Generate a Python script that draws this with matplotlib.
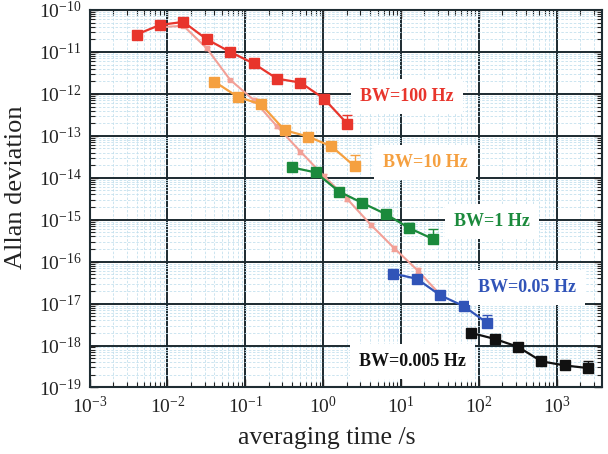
import numpy as np
import matplotlib
matplotlib.use("Agg")
import matplotlib.pyplot as plt
from matplotlib.ticker import LogLocator, NullFormatter

plt.rcParams['font.family'] = ['Liberation Serif', 'DejaVu Serif']
plt.rcParams['mathtext.fontset'] = 'custom'
plt.rcParams['mathtext.rm'] = 'Liberation Serif'
plt.rcParams['mathtext.it'] = 'Liberation Serif:italic'
plt.rcParams['mathtext.bf'] = 'Liberation Serif:bold'

# ---- data ----
tau_100 = [0.004, 0.008, 0.016, 0.032, 0.064, 0.128, 0.256, 0.512, 1.024, 2.048]
adev_100 = [2.6e-11, 4.4e-11, 5.2e-11, 2.0e-11, 1.0e-11, 5.3e-12, 2.3e-12, 1.86e-12, 7.7e-13, 1.93e-13]
err_100 = [0, 0, 0, 0, 0, 0, 0, 0, 0, 1.2e-13]

tau_10 = [0.04, 0.08, 0.16, 0.32, 0.64, 1.28, 2.56]
adev_10 = [1.96e-12, 8.5e-13, 5.6e-13, 1.36e-13, 9.6e-14, 5.6e-14, 1.86e-14]
err_10 = [0, 0, 0, 0, 0, 0, 1.7e-14]

tau_1 = [0.4, 0.8, 1.6, 3.2, 6.4, 12.8, 25.6]
adev_1 = [1.76e-14, 1.34e-14, 4.7e-15, 2.5e-15, 1.36e-15, 6.3e-16, 3.5e-16]
err_1 = [0, 0, 0, 0, 0, 2.0e-16, 2.6e-16]

tau_005 = [8, 16, 32, 64, 128]
adev_005 = [5.2e-17, 3.9e-17, 1.58e-17, 8.7e-18, 3.47e-18]
err_005 = [0, 0, 0, 0, 1.9e-18]

tau_0005 = [80, 160, 320, 640, 1280, 2560]
adev_0005 = [2.0e-18, 1.44e-18, 9.3e-19, 4.2e-19, 3.35e-19, 2.9e-19]
err_0005 = [0, 0, 0, 0, 0, 1.4e-19]

tau_all = [0.008, 0.016, 0.032, 0.064, 0.128, 0.256, 0.512, 1.024, 2.048, 4.096, 8.192, 16.38, 32.77]
adev_all = [3.9e-11, 4.2e-11, 1.22e-11, 2.15e-12, 7.2e-13, 1.67e-13, 4.2e-14, 1.1e-14,
            3.1e-15, 7.6e-16, 2.1e-16, 6.2e-17, 1.55e-17]
err_all_frac = [0.05, 0.05, 0.08, 0.08, 0.1, 0.1, 0.1, 0.1, 0.12, 0.12, 0.15, 0.15, 0.18]

labels = ["BW=100 Hz", "BW=10 Hz", "BW=1 Hz", "BW=0.05 Hz", "BW=0.005 Hz"]

# ---- style ----
c_red = '#e8352c'
c_orange = '#f5a040'
c_green = '#1b8a3c'
c_blue = '#3154b8'
c_black = '#111111'
c_pink = '#f2a097'

fig = plt.figure(figsize=(6.08, 4.54), dpi=100)
ax = fig.add_axes([0.1475, 0.1465, 0.8421, 0.8315])
ax.set_xscale('log')
ax.set_yscale('log')
ax.set_xlim(1e-3, 3.8e3)
ax.set_ylim(1e-19, 1e-10)

ax.xaxis.set_major_locator(LogLocator(base=10, numticks=100))
ax.xaxis.set_minor_locator(LogLocator(base=10, subs=np.arange(2, 10), numticks=100))
ax.yaxis.set_major_locator(LogLocator(base=10, numticks=100))
ax.yaxis.set_minor_locator(LogLocator(base=10, subs=np.arange(2, 10), numticks=100))
ax.xaxis.set_minor_formatter(NullFormatter())
ax.yaxis.set_minor_formatter(NullFormatter())

ax.grid(True, which='minor', color='#c4e0ee', linestyle=(0, (3, 2)), linewidth=0.6, zorder=0)
ax.grid(True, which='major', color='#1c2a30', linestyle='-', linewidth=1.4, zorder=1)
ax.set_axisbelow(True)

ax.tick_params(which='both', direction='in', top=True, right=True, labelsize=14, colors='#222222')
ax.tick_params(which='major', length=6, width=1.0, pad=6)
ax.tick_params(which='minor', length=3.5, width=0.8)
for s in ax.spines.values():
    s.set_linewidth(1.5)
    s.set_color('#1f2d33')

# pink combined curve
ax.errorbar(tau_all, adev_all, yerr=np.array(adev_all) * np.array(err_all_frac),
            color=c_pink, lw=1.5, marker='s', ms=2.5, capsize=2.5, elinewidth=0.9, zorder=3)

def series(t, a, e, c):
    ax.errorbar(t, a, yerr=[np.zeros(len(e)), e], color=c, lw=1.6, marker='s', ms=7,
                capsize=3.5, elinewidth=1.0, zorder=4)

series(tau_100, adev_100, err_100, c_red)
series(tau_10, adev_10, err_10, c_orange)
series(tau_1, adev_1, err_1, c_green)
series(tau_005, adev_005, err_005, c_blue)
series(tau_0005, adev_0005, err_0005, c_black)

label_pos = [(0.62, 0.772), (0.655, 0.597), (0.785, 0.439), (0.855, 0.265), (0.631, 0.068)]
label_col = [c_red, c_orange, c_green, c_blue, c_black]
for txt, (px, py), col in zip(labels, label_pos, label_col):
    ax.text(px, py, txt, transform=ax.transAxes, ha='center', va='center', fontsize=13,
            fontweight='bold', color=col, zorder=6,
            bbox=dict(boxstyle='square,pad=0.5', facecolor='white', edgecolor='none'))

ax.set_xlabel('averaging time /s', fontsize=18.5, color='#222222')
ax.set_ylabel('Allan deviation', fontsize=19, color='#222222')
ax.xaxis.set_label_coords(0.463, -0.105)
ax.yaxis.set_label_coords(-0.122, 0.53)

fig.savefig('out.png', dpi=100)
